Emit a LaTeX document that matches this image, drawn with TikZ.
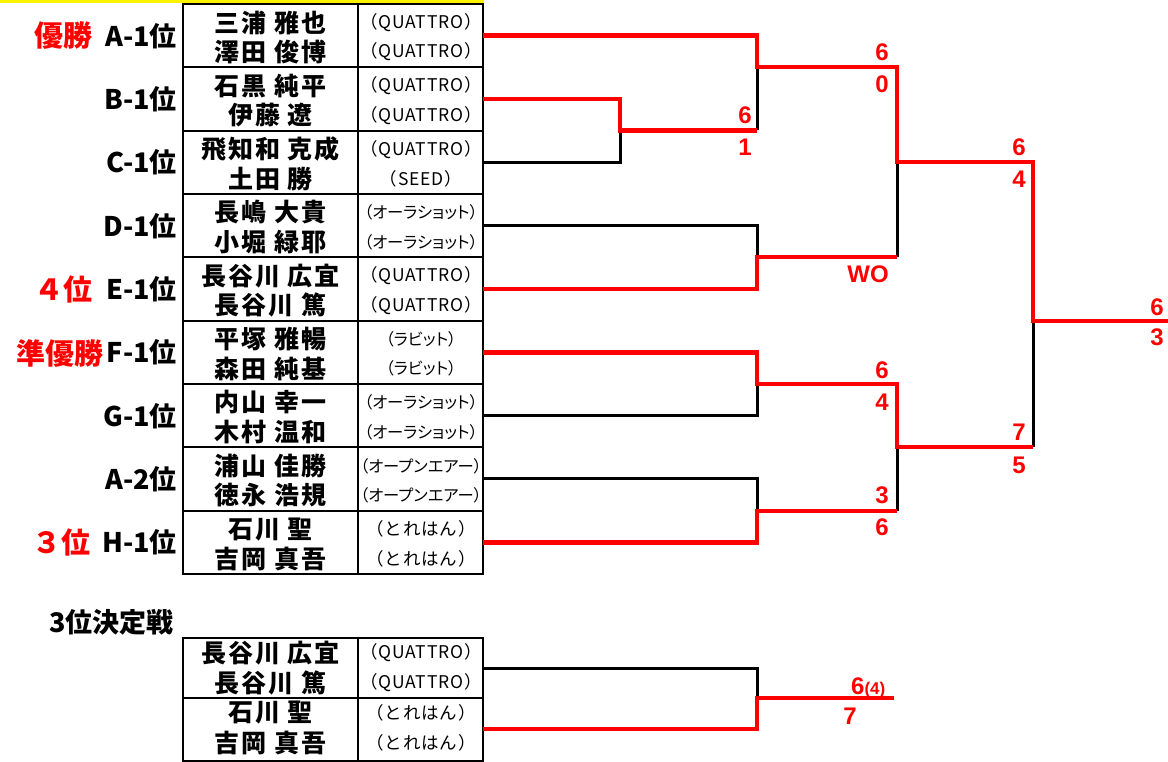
\documentclass[tikz,border=0pt]{standalone}
\usepackage{fontspec}
\setmainfont{Liberation Sans}
\newfontfamily\jp{Noto Sans CJK JP}
\newfontfamily\jpn{Noto Sans CJK JP}[LetterSpace=8]
\newfontfamily\jpl{Noto Sans CJK JP}[LetterSpace=5]
\newfontfamily\jpt{Noto Sans CJK JP}[RawFeature=+palt]
\tikzset{
  nm/.style={font=\jpn\bfseries\fontsize{25}{25}\selectfont, inner sep=0pt},
  tm/.style={font=\jpl\fontsize{17.5}{17.5}\selectfont, inner sep=0pt},
  tmk/.style={font=\jpt\fontsize{16.3}{16.3}\selectfont, inner sep=0pt},
  lb/.style={font=\jp\bfseries\fontsize{27}{27}\selectfont, anchor=east, inner sep=0pt},
  rk/.style={lb, text=red, font=\jp\bfseries\fontsize{29}{29}\selectfont},
  sc/.style={font=\bfseries\fontsize{24}{24}\selectfont, text=red, inner sep=0pt},
  win/.style={draw=red, line width=4.5pt},
  lose/.style={draw=black, line width=3pt},
  grid/.style={draw=black, line width=2pt}
}
\begin{document}
\begin{tikzpicture}[x=1pt,y=-1pt]
\useasboundingbox (0,0) rectangle (1168,762);
\fill[yellow] (0,0) rectangle (484,3.5);
% main table
\draw[grid] (183,4) rectangle (483,574);
\draw[grid] (358,4) -- (358,574);
\foreach \i in {1,...,8} \draw[grid] (183,{4+63.33*\i}) -- (483,{4+63.33*\i});
\foreach \i/\na/\ta/\nb/\tb/\ts/\lab in {
 0/三浦 雅也/（QUATTRO）/澤田 俊博/（QUATTRO）/tm/A-1位,
 1/石黒 純平/（QUATTRO）/伊藤 遼/（QUATTRO）/tm/B-1位,
 2/飛知和 克成/（QUATTRO）/土田 勝/（SEED）/tm/C-1位,
 3/長嶋 大貴/（オーラショット）/小堀 緑耶/（オーラショット）/tmk/D-1位,
 4/長谷川 広宜/（QUATTRO）/長谷川 篤/（QUATTRO）/tm/E-1位,
 5/平塚 雅暢/（ラビット）/森田 純基/（ラビット）/tmk/F-1位,
 6/内山 幸一/（オーラショット）/木村 温和/（オーラショット）/tmk/G-1位,
 7/浦山 佳勝/（オープンエアー）/徳永 浩規/（オープンエアー）/tmk/A-2位,
 8/石川 聖/（とれはん）/吉岡 真吾/（とれはん）/tm/H-1位}{
  \pgfmathsetmacro{\t}{4+63.33*\i}
  \node[nm] (na\i) at (270.5,\t+18.5) {\na};
  \node[nm] (nb\i) at (270.5,\t+48) {\nb};
  \node[\ts] (ta\i) at (421,\t+18.5) {\ta};
  \node[\ts] (tb\i) at (421,\t+48) {\tb};
  \node[lb] (lb\i) at (177,\t+32) {\lab};
  \coordinate (p\i) at (483,\t+31.67);
}
\node[rk] (r1) at (93,36) {優勝};
\node[rk] (r4) at (93,289) {４位};
\node[rk] (r2) at (104,353) {準優勝};
\node[rk] (r3) at (91,542) {３位};
% junction coordinates
\coordinate (jBC) at (620,130.5);
\coordinate (jABC) at (757,67);
\coordinate (jDE) at (757,257);
\coordinate (jTop) at (897,162);
\coordinate (jFG) at (757,384);
\coordinate (jAH) at (757,511);
\coordinate (jBot) at (897,447);
\coordinate (jFin) at (1033,321);
\coordinate (fEnd) at (1168,321);
% losers (black)
\draw[lose] (p2) -| (jBC);
\draw[lose] (jABC) -- (jABC |- jBC);
\draw[lose] (p3) -| (jDE);
\draw[lose] (jTop) -- (jTop |- jDE);
\draw[lose] (p6) -| (jFG);
\draw[lose] (p7) -| (jAH);
\draw[lose] (jBot) -- (jBot |- jAH);
\draw[lose] (jFin) -- (jFin |- jBot);
% winners (red)
\draw[win] (p1) -| (jBC) -- (jABC |- jBC);
\draw[win] (p0) -| (jABC) -| (jTop) -| (jFin) -- (fEnd);
\draw[win] (p4) -| (jDE) -- (jTop |- jDE);
\draw[win] (p5) -| (jFG) -| (jBot) -- (jFin |- jBot);
\draw[win] (p8) -| (jAH) -- (jBot |- jAH);
% scores
\node[sc] (s1) at (745,115) {6};
\node[sc] (s2) at (745,147) {1};
\node[sc] (s3) at (882,52) {6};
\node[sc] (s4) at (882,84) {0};
\node[sc] (s5) at (1019,147) {6};
\node[sc] (s6) at (1019,179) {4};
\node[sc] (s7) at (868,274) {WO};
\node[sc] (s8) at (882,370) {6};
\node[sc] (s9) at (882,402) {4};
\node[sc] (s10) at (1019,432) {7};
\node[sc] (s11) at (1019,465) {5};
\node[sc] (s12) at (882,495) {3};
\node[sc] (s13) at (882,527) {6};
\node[sc] (s14) at (1157,307) {6};
\node[sc] (s15) at (1157,337) {3};
% third place match
\node[lb, anchor=west] (title) at (49,622) {3位決定戦};
\draw[grid] (183,638) rectangle (483,761);
\draw[grid] (358,638) -- (358,761);
\draw[grid] (183,698) -- (483,698);
\node[nm] (qa) at (270.5,653) {長谷川 広宜};
\node[nm] (qb) at (270.5,683) {長谷川 篤};
\node[nm] (qc) at (270.5,713) {石川 聖};
\node[nm] (qd) at (270.5,743) {吉岡 真吾};
\node[tm] (qta) at (421,653) {（QUATTRO）};
\node[tm] (qtb) at (421,683) {（QUATTRO）};
\node[tm] (qtc) at (421,713) {（とれはん）};
\node[tm] (qtd) at (421,743) {（とれはん）};
\coordinate (q1) at (483,668);
\coordinate (q2) at (483,729);
\coordinate (jQ) at (757,698);
\coordinate (qEnd) at (894,698);
\draw[lose] (q1) -| (jQ);
\draw[win] (q2) -| (jQ) -- (qEnd);
\node[sc, anchor=base west] (qs1) at (851,694) {6{\fontsize{17}{17}\selectfont(4)}};
\node[sc] (qs2) at (850,716) {7};
\end{tikzpicture}
\end{document}
